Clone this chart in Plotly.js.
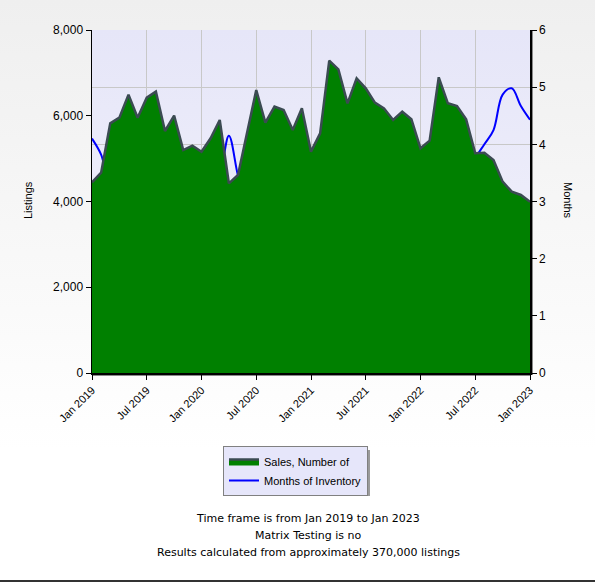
<!DOCTYPE html>
<html>
<head>
<meta charset="utf-8">
<script src="https://cdn.plot.ly/plotly-3.0.1.min.js"></script>
<style>
html,body{margin:0;padding:0;background:#fff;}
#chart{width:595px;height:582px;}
</style>
</head>
<body>
<div id="chart"></div>
<script>
// ---- data ----
var months = [
 "Jan 2019","Feb 2019","Mar 2019","Apr 2019","May 2019","Jun 2019","Jul 2019","Aug 2019","Sep 2019","Oct 2019","Nov 2019","Dec 2019",
 "Jan 2020","Feb 2020","Mar 2020","Apr 2020","May 2020","Jun 2020","Jul 2020","Aug 2020","Sep 2020","Oct 2020","Nov 2020","Dec 2020",
 "Jan 2021","Feb 2021","Mar 2021","Apr 2021","May 2021","Jun 2021","Jul 2021","Aug 2021","Sep 2021","Oct 2021","Nov 2021","Dec 2021",
 "Jan 2022","Feb 2022","Mar 2022","Apr 2022","May 2022","Jun 2022","Jul 2022","Aug 2022","Sep 2022","Oct 2022","Nov 2022","Dec 2022",
 "Jan 2023"
];
var salesCount = [
 4448,4672,5823,5955,6492,5955,6422,6562,5644,6002,5201,5302,
 5162,5474,5901,4424,4618,5590,6600,5839,6212,6134,5668,6173,
 5162,5590,7285,7083,6290,6873,6640,6305,6173,5901,6095,5917,
 5240,5418,6897,6290,6227,5917,5124,5138,4968,4462,4229,4152,
 3995
];
var monthsOfInventory = [
 4.10,3.82,3.30,3.30,3.20,3.30,3.20,3.10,3.30,3.20,3.40,3.30,
 3.30,3.30,3.50,4.15,3.45,2.90,2.50,2.40,2.20,2.10,2.10,1.90,
 1.90,1.80,1.60,1.60,1.70,1.80,1.90,2.00,2.10,2.10,2.00,1.90,
 1.90,1.90,1.90,2.30,2.80,3.30,3.75,4.00,4.25,4.87,4.98,4.67,
 4.43
];
var xTickLabels = ["Jan 2019","Jul 2019","Jan 2020","Jul 2020","Jan 2021","Jul 2021","Jan 2022","Jul 2022","Jan 2023"];
var footerLines = [
 "Time frame is from Jan 2019 to Jan 2023",
 "Matrix Testing is no",
 "Results calculated from approximately 370,000 listings"
];

// ---- geometry helpers (pixels -> paper) ----
var W = 595, H = 582, ML = 92, MR = 65, MT = 30, MB = 209;
var PW = W - ML - MR, PH = H - MT - MB;
function px(x){ return (x - ML) / PW; }
function py(y){ return (H - MB - y) / PH; }

function gradSvg(c1, c2){
  var s = '<svg xmlns="http://www.w3.org/2000/svg" width="100" height="100" preserveAspectRatio="none">' +
    '<defs><linearGradient id="g" x1="0" y1="0" x2="0" y2="1">' +
    '<stop offset="0" stop-color="' + c1 + '"/><stop offset="1" stop-color="' + c2 + '"/>' +
    '</linearGradient></defs><rect width="100" height="100" fill="url(#g)"/></svg>';
  return 'data:image/svg+xml;charset=utf-8,' + encodeURIComponent(s);
}

var FONT = "Liberation Sans, Arial, sans-serif";

var traces = [
  {
    name: "Sales, Number of",
    x: months, y: salesCount,
    type: "scatter", mode: "lines",
    fill: "tozeroy", fillcolor: "#008000",
    line: {color: "#3b4b52", width: 2.5},
    yaxis: "y2", hoverinfo: "skip"
  },
  {
    name: "Months of Inventory",
    x: months, y: monthsOfInventory,
    type: "scatter", mode: "lines",
    line: {color: "#0000ff", width: 2, shape: "spline", smoothing: 1},
    yaxis: "y", hoverinfo: "skip"
  }
];

var annotations = [
  {text: "Listings", xref: "paper", yref: "paper", x: px(28), y: py(200), textangle: -90,
   xanchor: "center", yanchor: "middle",
   showarrow: false, font: {family: FONT, size: 11, color: "#000"}},
  {text: "Months", xref: "paper", yref: "paper", x: px(568), y: py(200), textangle: 90,
   xanchor: "center", yanchor: "middle",
   showarrow: false, font: {family: FONT, size: 11, color: "#000"}}
];
var footY = [518, 535, 552];
footerLines.forEach(function(t, i){
  annotations.push({text: t, xref: "paper", yref: "paper", x: px(308), y: py(footY[i]),
    xanchor: "center", yanchor: "middle", showarrow: false,
    font: {family: "DejaVu Sans, Verdana, sans-serif", size: 11, color: "#000"}});
});

var layout = {
  width: W, height: H,
  margin: {l: ML, r: MR, t: MT, b: MB, pad: 0},
  paper_bgcolor: "#ffffff",
  plot_bgcolor: "rgba(0,0,0,0)",
  showlegend: true,
  legend: {
    x: px(223), y: py(446), xanchor: "left", yanchor: "top",
    bgcolor: "#e6e6fa", bordercolor: "#808080", borderwidth: 1,
    font: {family: FONT, size: 11, color: "#000"},
    traceorder: "normal", tracegroupgap: 0, itemwidth: 30
  },
  xaxis: {
    type: "category", range: [0, 48],
    tickmode: "array", tickvals: xTickLabels, ticktext: xTickLabels,
    tickangle: -45, ticks: "outside", ticklen: 5, tickcolor: "#000",
    showline: true, linecolor: "#000", linewidth: 1.5,
    showgrid: true, gridcolor: "#c8c8c8", gridwidth: 1,
    tickfont: {family: FONT, size: 11, color: "#000"},
    fixedrange: true
  },
  yaxis: {
    side: "right", range: [0, 6], dtick: 1, tick0: 0,
    ticks: "outside", ticklen: 5, tickcolor: "#000",
    showline: true, linecolor: "#000", linewidth: 1.5,
    showgrid: true, gridcolor: "#c8c8c8", gridwidth: 1, zeroline: false,
    tickfont: {family: FONT, size: 12, color: "#000"},
    fixedrange: true
  },
  yaxis2: {
    overlaying: "y", side: "left", range: [0, 8000], dtick: 2000, tick0: 0,
    tickformat: ",d",
    ticks: "outside", ticklen: 5, tickcolor: "#000",
    showline: true, linecolor: "#000", linewidth: 1.5,
    showgrid: false, zeroline: false,
    tickfont: {family: FONT, size: 12, color: "#000"},
    fixedrange: true
  },
  images: [
    {source: gradSvg("#efefef", "#ffffff"), xref: "paper", yref: "paper",
     x: px(0), y: py(0), sizex: W / PW, sizey: (450) / PH,
     xanchor: "left", yanchor: "top", sizing: "stretch", layer: "below"},
    {source: gradSvg("#e6e6f8", "#f3f3fc"), xref: "paper", yref: "paper",
     x: 0, y: 1, sizex: 1, sizey: 1,
     xanchor: "left", yanchor: "top", sizing: "stretch", layer: "below"}
  ],
  shapes: [
    // legend shadow
    {type: "rect", xref: "paper", yref: "paper", x0: px(226), x1: px(370), y0: py(450), y1: py(496),
     fillcolor: "#9a9a9a", line: {width: 0}, layer: "above"},
    // axis shadows
    {type: "line", xref: "paper", yref: "paper", x0: px(92), x1: px(531), y0: py(375), y1: py(375),
     line: {color: "#8a8a8a", width: 2}, layer: "below"},
    {type: "line", xref: "paper", yref: "paper", x0: px(532), x1: px(532), y0: py(31), y1: py(375),
     line: {color: "#8a8a8a", width: 2}, layer: "below"},
    // bottom border
    {type: "line", xref: "paper", yref: "paper", x0: px(0), x1: px(595), y0: py(581), y1: py(581),
     line: {color: "#333333", width: 2}, layer: "above"}
  ],
  annotations: annotations
};

Plotly.newPlot("chart", traces, layout, {displayModeBar: false, staticPlot: true});
</script>
</body>
</html>
